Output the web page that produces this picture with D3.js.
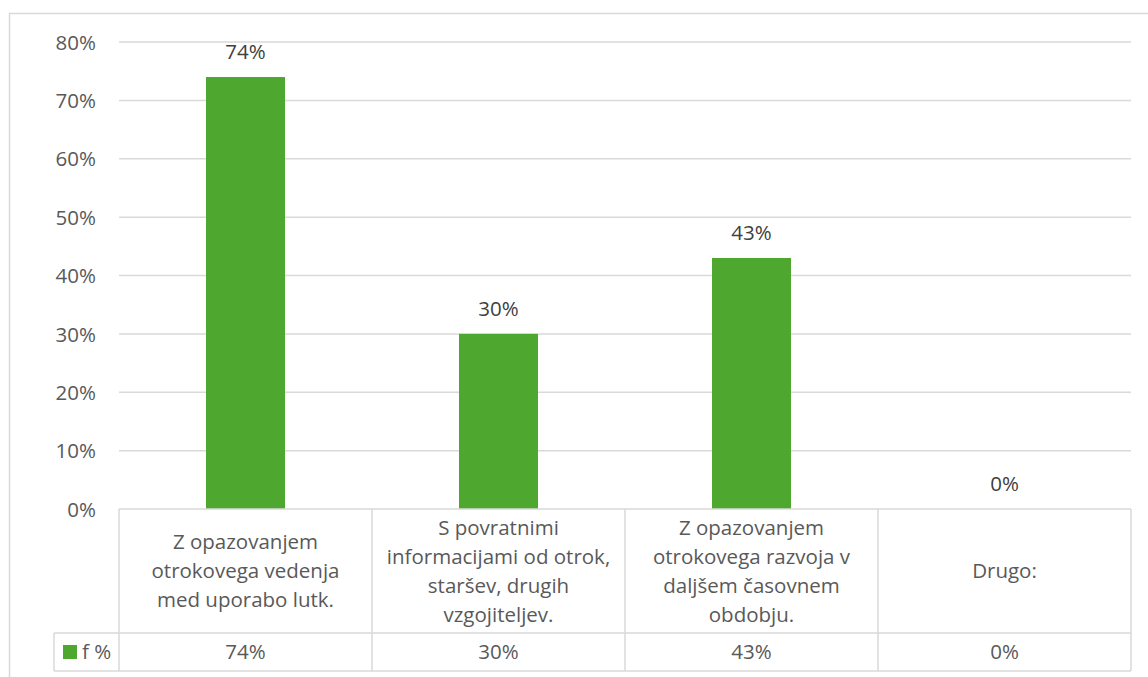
<!DOCTYPE html>
<html><head><meta charset="utf-8">
<script src="https://cdn.jsdelivr.net/npm/d3@7"></script>
<style>html,body{margin:0;padding:0;background:#fff;}svg{display:block;}</style>
</head><body>
<svg id="chart" width="1148" height="677"></svg>
<script>
const categories = [
  ["Z opazovanjem", "otrokovega vedenja", "med uporabo lutk."],
  ["S povratnimi", "informacijami od otrok,", "staršev, drugih", "vzgojiteljev."],
  ["Z opazovanjem", "otrokovega razvoja v", "daljšem časovnem", "obdobju."],
  ["Drugo:"]
];
const values = [74, 30, 43, 0];
const seriesName = "f %";
const yTicks = [0, 10, 20, 30, 40, 50, 60, 70, 80];

(function () {
const svg = d3.select("#chart");
const font = "'Open Sans', sans-serif";
const fs = 20.5;
const textColor = "#595959";
const gridColor = "#d9d9d9";
const green = "#4ea72e";

const pLeft = 119, pRight = 1131, pTop = 42, pBottom = 509;
const tableRow1 = 633, tableBottom = 671, legendLeft = 54;

// outer border
svg.append("rect").attr("x", 9.5).attr("y", 13.5).attr("width", 1150).attr("height", 700)
  .attr("fill", "none").attr("stroke", gridColor).attr("stroke-width", 1.5);

const x = d3.scaleBand().domain(d3.range(categories.length)).range([pLeft, pRight]).paddingInner(0).paddingOuter(0);
const y = d3.scaleLinear().domain([0, 80]).range([pBottom, pTop]);

// gridlines
svg.append("g").selectAll("line").data(yTicks.filter(t => t > 0)).join("line")
  .attr("x1", pLeft).attr("x2", pRight).attr("y1", d => y(d)).attr("y2", d => y(d))
  .attr("stroke", gridColor).attr("stroke-width", 1.5);

// y axis labels
const yAxis = d3.axisLeft(y).tickValues(yTicks).tickFormat(d => d + "%").tickSize(0).tickPadding(0);
const gy = svg.append("g").attr("transform", `translate(${96},0)`).call(yAxis);
gy.select(".domain").remove();
gy.selectAll("text").attr("font-family", font).attr("font-size", fs).attr("fill", textColor).attr("dy", "0.35em");

// bars
const barW = 79;
svg.append("g").selectAll("rect").data(values).join("rect")
  .attr("x", (d, i) => x(i) + x.bandwidth() / 2 - barW / 2)
  .attr("width", barW)
  .attr("y", d => y(d)).attr("height", d => y(0) - y(d))
  .attr("fill", green);

// data labels
svg.append("g").selectAll("text").data(values).join("text")
  .attr("x", (d, i) => x(i) + x.bandwidth() / 2)
  .attr("y", d => y(d) - 18)
  .attr("text-anchor", "middle")
  .attr("font-family", font).attr("font-size", fs).attr("fill", "#404040")
  .text(d => d + "%");

// table lines
const tg = svg.append("g").attr("stroke", gridColor).attr("stroke-width", 1.5);
tg.append("line").attr("x1", pLeft).attr("x2", pRight).attr("y1", pBottom).attr("y2", pBottom);
tg.append("line").attr("x1", legendLeft).attr("x2", pRight).attr("y1", tableRow1).attr("y2", tableRow1);
tg.append("line").attr("x1", legendLeft).attr("x2", pRight).attr("y1", tableBottom).attr("y2", tableBottom);
const vlines = d3.range(categories.length + 1).map(i => i < categories.length ? x(i) : pRight);
tg.selectAll("line.v").data(vlines).join("line").attr("class", "v")
  .attr("x1", d => d).attr("x2", d => d).attr("y1", pBottom).attr("y2", tableBottom);
tg.append("line").attr("x1", legendLeft).attr("x2", legendLeft).attr("y1", tableRow1).attr("y2", tableBottom);

// category labels
const lh = 29, midY = (pBottom + tableRow1) / 2;
categories.forEach((lines, i) => {
  const t = svg.append("text").attr("text-anchor", "middle")
    .attr("font-family", font).attr("font-size", fs).attr("fill", textColor);
  lines.forEach((ln, j) => {
    t.append("tspan").attr("x", x(i) + x.bandwidth() / 2)
      .attr("y", midY + (j - (lines.length - 1) / 2) * lh)
      .attr("dy", "0.35em").text(ln);
  });
});

// values row
const rowMid = (tableRow1 + tableBottom) / 2;
svg.append("g").selectAll("text").data(values).join("text")
  .attr("x", (d, i) => x(i) + x.bandwidth() / 2).attr("y", rowMid).attr("dy", "0.35em")
  .attr("text-anchor", "middle").attr("font-family", font).attr("font-size", fs).attr("fill", textColor)
  .text(d => d + "%");

// legend key
svg.append("rect").attr("x", 63).attr("y", rowMid - 7).attr("width", 14).attr("height", 14).attr("fill", green);
svg.append("text").attr("x", 82).attr("y", rowMid).attr("dy", "0.35em")
  .attr("font-family", font).attr("font-size", fs).attr("fill", textColor).text(seriesName);
})();
</script>
</body></html>
